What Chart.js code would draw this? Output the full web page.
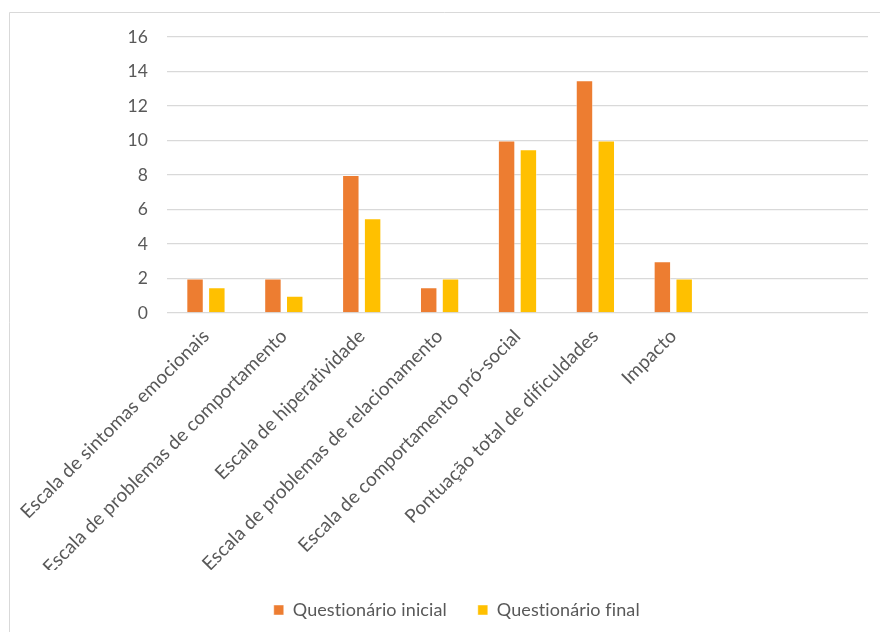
<!DOCTYPE html>
<html>
<head>
<meta charset="utf-8">
<script src="https://cdn.jsdelivr.net/npm/chart.js@4/dist/chart.umd.min.js"></script>
<style>
  html, body { margin: 0; padding: 0; background: #ffffff; }
  #wrap { width: 880px; height: 632px; position: relative; }
</style>
</head>
<body>
<div id="wrap"><canvas id="c" width="880" height="632"></canvas></div>
<script>
const categories = [
  'Escala de sintomas emocionais',
  'Escala de problemas de comportamento',
  'Escala de hiperatividade',
  'Escala de problemas de relacionamento',
  'Escala de comportamento pró-social',
  'Pontuação total de dificuldades',
  'Impacto',
  '',
  ''
];
const inicial = [2, 2, 8, 1.5, 10, 13.5, 3, null, null];
const final = [1.5, 1, 5.5, 2, 9.5, 10, 2, null, null];
const yTicks = { min: 0, max: 16, step: 2 };

const FONT = 'Lato, "Open Sans", sans-serif';
const TXT = '#595959';
const PLOT_LEFT = 167, PLOT_BOTTOM = 313, PAD_BOTTOM = 3, PAD_LEFT = 42;

const framePlugin = {
  id: 'frame',
  beforeDraw(chart) {
    const ctx = chart.ctx;
    ctx.save();
    ctx.fillStyle = '#ffffff';
    ctx.fillRect(0, 0, chart.width, chart.height);
    ctx.strokeStyle = '#d9d9d9';
    ctx.lineWidth = 1;
    ctx.beginPath();
    ctx.moveTo(9.5, chart.height);
    ctx.lineTo(9.5, 12.5);
    ctx.lineTo(chart.width, 12.5);
    ctx.stroke();
    ctx.restore();
    if ('letterSpacing' in ctx) ctx.letterSpacing = '0.1px';
  }
};

new Chart(document.getElementById('c'), {
  type: 'bar',
  data: {
    labels: categories,
    datasets: [
      {
        label: 'Questionário inicial',
        data: inicial,
        backgroundColor: '#ED7D31',
        borderColor: 'rgba(255,255,255,0.45)',
        borderWidth: 1,
        categoryPercentage: 0.56,
        barPercentage: 0.8
      },
      {
        label: 'Questionário final',
        data: final,
        backgroundColor: '#FFC000',
        borderColor: 'rgba(255,255,255,0.45)',
        borderWidth: 1,
        categoryPercentage: 0.56,
        barPercentage: 0.8
      }
    ]
  },
  options: {
    responsive: false,
    animation: false,
    layout: { padding: { top: 37, right: 12, left: PAD_LEFT, bottom: PAD_BOTTOM } },
    plugins: {
      legend: {
        position: 'bottom',
        labels: {
          boxWidth: 10,
          boxHeight: 10,
          padding: 31,
          color: TXT,
          font: { family: FONT, size: 18 }
        }
      },
      tooltip: { enabled: false }
    },
    scales: {
      x: {
        grid: { display: false },
        border: { display: false },
        ticks: {
          color: TXT,
          font: { family: FONT, size: 19 },
          maxRotation: 45,
          minRotation: 45,
          autoSkip: false,
          padding: 4
        },
        afterFit(axis) {
          const lg = axis.chart.legend;
          const lh = lg ? lg.height : 0;
          axis.height = axis.chart.height - PLOT_BOTTOM - lh - PAD_BOTTOM;
          axis.paddingLeft = 0;
          axis.paddingRight = 0;
        }
      },
      y: {
        min: yTicks.min,
        max: yTicks.max,
        grid: { color: '#d9d9d9', lineWidth: 1.3, drawTicks: false },
        border: { display: false },
        ticks: {
          stepSize: yTicks.step,
          color: TXT,
          padding: 19,
          font: { family: FONT, size: 17.5 }
        },
        afterFit(axis) {
          axis.width = PLOT_LEFT - PAD_LEFT;
        }
      }
    }
  },
  plugins: [framePlugin]
});
</script>
</body>
</html>
